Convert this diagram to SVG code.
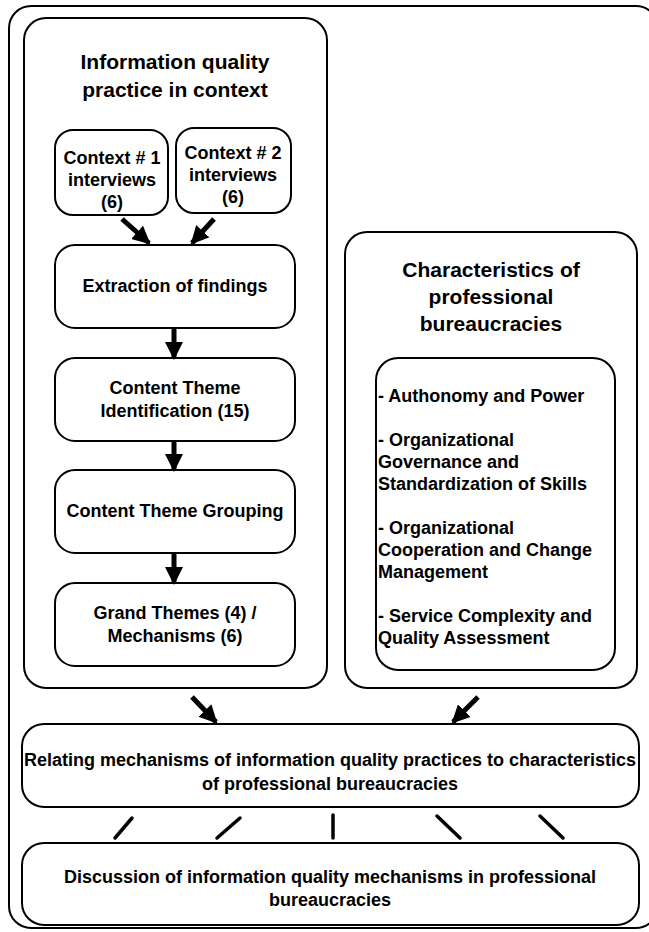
<svg xmlns="http://www.w3.org/2000/svg" width="649" height="932" viewBox="0 0 649 932">
  <style>
    .box { fill: #ffffff; stroke: #000000; stroke-width: 2; }
    .title { font-family: "Liberation Sans", Arial, sans-serif; font-weight: bold; font-size: 21px; text-anchor: middle; fill: #000000; }
    .lbl { font-family: "Liberation Sans", Arial, sans-serif; font-weight: bold; font-size: 18px; text-anchor: middle; fill: #000000; }
    .item { font-family: "Liberation Sans", Arial, sans-serif; font-weight: bold; font-size: 18px; text-anchor: start; fill: #000000; }
    .arrow { stroke: #000000; stroke-width: 5; fill: none; marker-end: url(#head); }
    .tick { stroke: #000000; stroke-width: 3.5; stroke-linecap: round; fill: none; }
  </style>
  <defs>
    <marker id="head" markerUnits="userSpaceOnUse" markerWidth="18" markerHeight="18" refX="16" refY="9" orient="auto">
      <path d="M0,0 L18,9 L0,18 z" fill="#000000"/>
    </marker>
  </defs>

  <rect width="649" height="932" fill="#ffffff"/>

  <!-- outer frame -->
  <g id="frame">
    <rect class="box" x="9" y="6" width="649" height="922" rx="22"/>
  </g>

  <!-- left column: information quality practice -->
  <g id="practice">
    <rect class="box" x="24" y="18" width="303" height="670" rx="22"/>
    <text class="title" x="175" y="69">Information quality</text>
    <text class="title" x="175" y="97">practice in context</text>
  </g>

  <g id="context1">
    <rect class="box" x="55" y="130" width="113" height="85" rx="18"/>
    <text class="lbl" x="112" y="164">Context # 1</text>
    <text class="lbl" x="112" y="186">interviews</text>
    <text class="lbl" x="112" y="208">(6)</text>
  </g>

  <g id="context2">
    <rect class="box" x="176" y="128" width="115" height="85" rx="18"/>
    <text class="lbl" x="233" y="159">Context # 2</text>
    <text class="lbl" x="233" y="181">interviews</text>
    <text class="lbl" x="233" y="203">(6)</text>
  </g>

  <g id="extraction">
    <rect class="box" x="55" y="245" width="240" height="83" rx="20"/>
    <text class="lbl" x="175" y="292">Extraction of findings</text>
  </g>

  <g id="identification">
    <rect class="box" x="55" y="358" width="240" height="83" rx="20"/>
    <text class="lbl" x="175" y="394">Content Theme</text>
    <text class="lbl" x="175" y="417">Identification (15)</text>
  </g>

  <g id="grouping">
    <rect class="box" x="55" y="470" width="240" height="83" rx="20"/>
    <text class="lbl" x="175" y="517">Content Theme Grouping</text>
  </g>

  <g id="grand-themes">
    <rect class="box" x="55" y="583" width="240" height="83" rx="20"/>
    <text class="lbl" x="175" y="619">Grand Themes (4) /</text>
    <text class="lbl" x="175" y="642">Mechanisms (6)</text>
  </g>

  <!-- right column: professional bureaucracies -->
  <g id="characteristics">
    <rect class="box" x="345" y="232" width="292" height="456" rx="22"/>
    <text class="title" x="491" y="277">Characteristics of</text>
    <text class="title" x="491" y="304">professional</text>
    <text class="title" x="491" y="331">bureaucracies</text>
  </g>

  <g id="characteristics-list">
    <rect class="box" x="376" y="358" width="239" height="312" rx="22"/>
    <text class="item" x="378" y="402">- Authonomy and Power</text>
    <text class="item" x="378" y="446">- Organizational</text>
    <text class="item" x="378" y="468">Governance and</text>
    <text class="item" x="378" y="490">Standardization of Skills</text>
    <text class="item" x="378" y="534">- Organizational</text>
    <text class="item" x="378" y="556">Cooperation and Change</text>
    <text class="item" x="378" y="578">Management</text>
    <text class="item" x="378" y="622">- Service Complexity and</text>
    <text class="item" x="378" y="644">Quality Assessment</text>
  </g>

  <g id="relating">
    <rect class="box" x="22" y="724" width="617" height="83" rx="22"/>
    <text class="lbl" x="330" y="766">Relating mechanisms of information quality practices to characteristics</text>
    <text class="lbl" x="330" y="790">of professional bureaucracies</text>
  </g>

  <g id="discussion">
    <rect class="box" x="22" y="843" width="617" height="82" rx="22"/>
    <text class="lbl" x="330" y="883">Discussion of information quality mechanisms in professional</text>
    <text class="lbl" x="330" y="906">bureaucracies</text>
  </g>

  <!-- connectors -->
  <g id="connectors">
    <line class="arrow" x1="122" y1="219" x2="149" y2="243"/>
    <line class="arrow" x1="214" y1="219" x2="192" y2="243"/>
    <line class="arrow" x1="174" y1="329" x2="174" y2="358"/>
    <line class="arrow" x1="174" y1="442" x2="174" y2="470"/>
    <line class="arrow" x1="174" y1="554" x2="174" y2="583"/>
    <line class="arrow" x1="192" y1="697" x2="216" y2="722"/>
    <line class="arrow" x1="478" y1="697" x2="453" y2="722"/>
    <line class="tick" x1="132" y1="818" x2="115" y2="838"/>
    <line class="tick" x1="240" y1="818" x2="217" y2="838"/>
    <line class="tick" x1="333" y1="815" x2="333" y2="838"/>
    <line class="tick" x1="437" y1="816" x2="460" y2="838"/>
    <line class="tick" x1="540" y1="816" x2="563" y2="838"/>
  </g>
</svg>
